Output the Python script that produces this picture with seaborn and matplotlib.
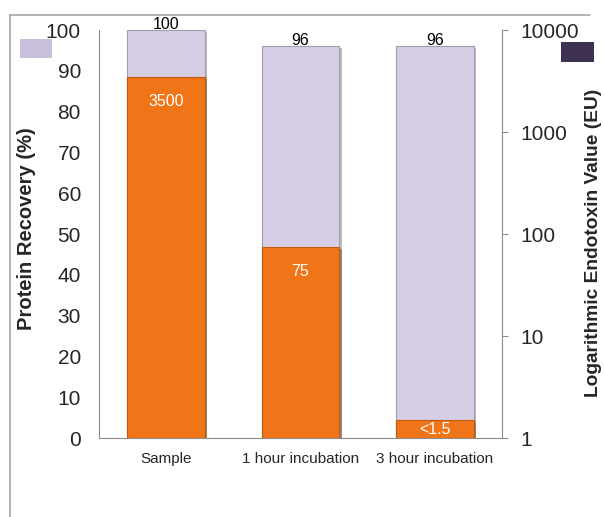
"""
Protein recovery vs. endotoxin value, dual axis bar chart.
"""
import numpy as np
import pandas as pd
import matplotlib
matplotlib.use("Agg")
import matplotlib.pyplot as plt
import matplotlib.patheffects as pe
from matplotlib.patches import Rectangle
from matplotlib.lines import Line2D
import seaborn as sns

# Dados
categories = ["Sample", "1 hour incubation", "3 hour incubation"]
recovery = [100, 96, 96]
recovery_labels = ["100", "96", "96"]
endotoxin = [3500, 75, 1.5]
endotoxin_labels = ["3500", "75", "<1.5"]

LAVENDER = "#D6CEE5"
ORANGE = "#F07418"
DARK_PURPLE = "#3F3151"
GRAY = "#8C8C8C"

sns.set_style("white")
plt.rcParams["font.family"] = ["Liberation Sans", "DejaVu Sans"]

df = pd.DataFrame({"cat": categories, "rec": recovery, "endo": endotoxin})

fig = plt.figure(figsize=(6.04, 5.17), dpi=100)
ax1 = fig.add_axes([99 / 604, 79 / 517, 403 / 604, 408 / 517])
ax2 = ax1.twinx()

shadow = [pe.SimplePatchShadow(offset=(1.5, -1.5), alpha=0.35), pe.Normal()]

# Barras de recuperação (eixo esquerdo)
sns.barplot(data=df, x="cat", y="rec", color=LAVENDER, width=0.58,
            edgecolor="#A29CB0", linewidth=0.8, saturation=1, ax=ax1)
for p in ax1.patches:
    p.set_path_effects(shadow)
ax1.set_ylim(0, 100)
ax1.set_yticks(np.arange(0, 101, 10))
ax1.set_xlim(-0.5, 2.5)
ax1.bar_label(ax1.containers[0], labels=recovery_labels, padding=-1.5,
              fontsize=11.5, color="black")

# Barras de endotoxina (eixo direito, log)
sns.barplot(data=df, x="cat", y="endo", color=ORANGE, width=0.58,
            edgecolor="#C45A0C", linewidth=0.8, saturation=1, ax=ax2)
ax2.set_yscale("log")
ax2.set_ylim(1, 10000)
ax2.set_xlim(-0.5, 2.5)
for p in ax2.patches:
    p.set_path_effects(shadow)

for p, lab in zip(ax2.patches, endotoxin_labels):
    xc = p.get_x() + p.get_width() / 2
    top = p.get_y() + p.get_height()
    if lab.startswith("<"):
        ax2.annotate(lab, (xc, np.sqrt(top)), ha="center", va="center",
                     fontsize=11.5, color="white")
    else:
        ax2.annotate(lab, (xc, top), xytext=(0, -18), textcoords="offset points",
                     ha="center", va="center", fontsize=11.5, color="white")

# Eixos
for ax in (ax1, ax2):
    for s in ax.spines.values():
        s.set_visible(False)
    ax.set_xlabel("")

ax1.spines["left"].set_visible(True)
ax1.spines["bottom"].set_visible(True)
ax1.spines["left"].set_color(GRAY)
ax1.spines["bottom"].set_color(GRAY)
ax2.spines["right"].set_visible(True)
ax2.spines["right"].set_color(GRAY)

ax1.tick_params(axis="y", length=0, pad=13, labelsize=15)
ax1.tick_params(axis="x", length=0, pad=10, labelsize=11)
ax2.tick_params(axis="y", which="major", length=4, color=GRAY, pad=9,
                labelsize=15, direction="out")
ax2.tick_params(axis="y", which="minor", length=0)
ax2.yaxis.set_major_formatter(matplotlib.ticker.FuncFormatter(lambda v, _: f"{v:g}"))

ax1.set_ylabel("")
ax2.set_ylabel("")
fig.text(27 / 604, 1 - 229 / 517, "Protein Recovery (%)", rotation=90,
         ha="center", va="center", fontsize=14.5, fontweight="bold")
fig.text(594 / 604, 1 - 243 / 517, "Logarithmic Endotoxin Value (EU)", rotation=90,
         ha="center", va="center", fontsize=13.8, fontweight="bold")

# Marcadores de legenda
fig.add_artist(Rectangle((20 / 604, 1 - 58 / 517), 32 / 604, 19 / 517,
                         transform=fig.transFigure, color="#C9BFDB", lw=0))
fig.add_artist(Rectangle((561 / 604, 1 - 62 / 517), 33 / 604, 20 / 517,
                         transform=fig.transFigure, color=DARK_PURPLE, lw=0))

# Borda externa
fig.add_artist(Line2D([10 / 604, 590 / 604], [1 - 15 / 517, 1 - 15 / 517],
                      transform=fig.transFigure, color="#A6A6A6", lw=1.2))
fig.add_artist(Line2D([10 / 604, 10 / 604], [0, 1 - 15 / 517],
                      transform=fig.transFigure, color="#A6A6A6", lw=1.2))

plt.savefig("out.png", dpi=100)
plt.close()
